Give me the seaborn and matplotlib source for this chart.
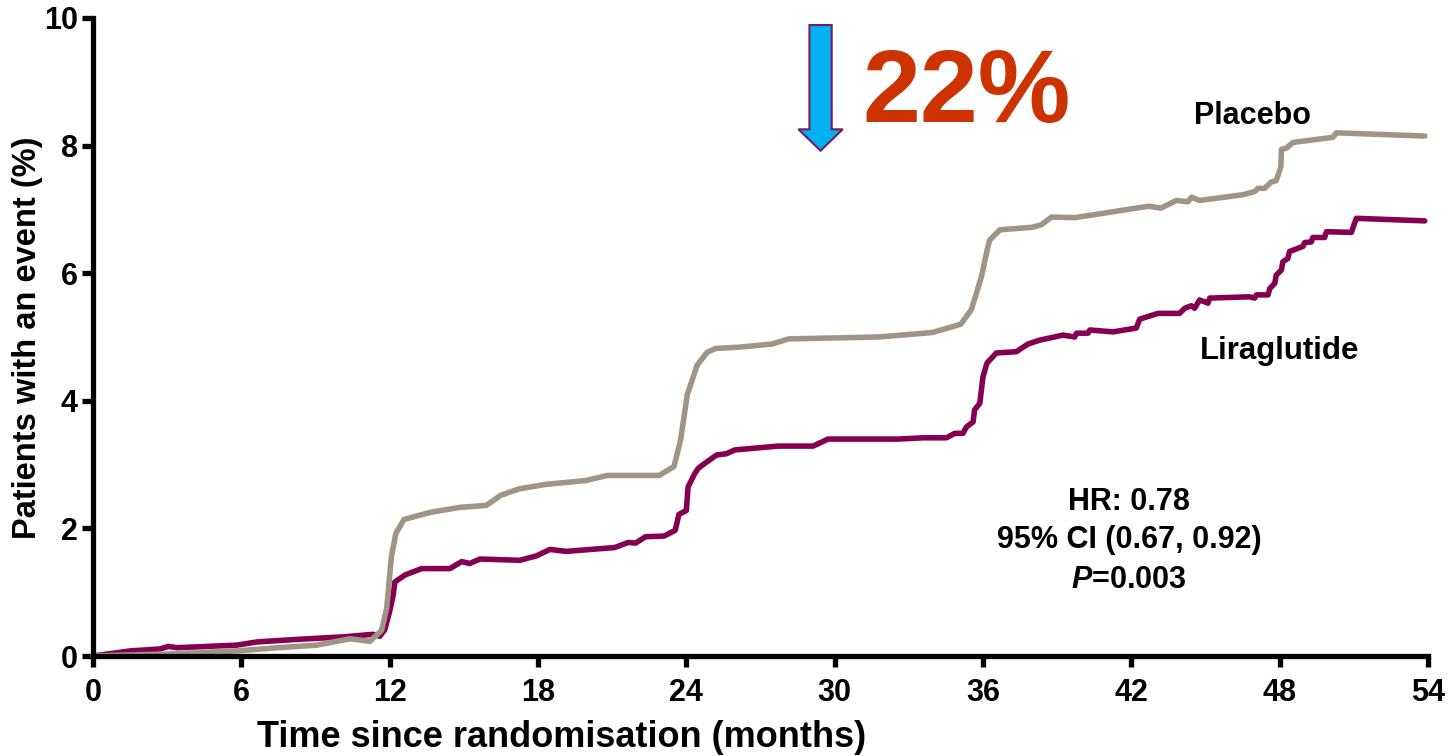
import matplotlib
matplotlib.use("Agg")
import matplotlib.pyplot as plt
import pandas as pd
import seaborn as sns
from matplotlib.patches import FancyArrow

# ---------------- data ----------------
placebo_months = [0, 3.0, 5.8, 7.5, 9.05, 10.4, 11.2, 11.67, 11.88, 12.07, 12.25, 12.58,
                  13.63, 14.84, 15.9, 16.5, 17.24, 18.32, 19.93, 20.8, 22.9, 23.5, 23.77,
                  24.04, 24.44, 24.84, 25.18, 26.12, 27.47, 28.14, 31.77, 33.95, 35.1,
                  35.53, 35.94, 36.2, 36.27, 36.68, 38.0, 38.36, 38.77, 39.71, 42.7, 43.2,
                  43.82, 44.29, 44.43, 44.76, 46.51, 46.99, 47.12, 47.39, 47.66, 47.86,
                  48.05, 48.07, 48.27, 48.54, 50.15, 50.29, 53.87]
placebo_pct = [0, 0.03, 0.08, 0.13, 0.17, 0.27, 0.23, 0.40, 0.75, 1.56, 1.92, 2.14,
               2.25, 2.33, 2.36, 2.52, 2.62, 2.69, 2.75, 2.83, 2.83, 2.97, 3.39,
               4.10, 4.56, 4.76, 4.82, 4.84, 4.89, 4.97, 5.00, 5.07, 5.20,
               5.43, 5.95, 6.42, 6.52, 6.68, 6.72, 6.76, 6.88, 6.87, 7.05, 7.02,
               7.14, 7.12, 7.19, 7.14, 7.23, 7.28, 7.33, 7.33, 7.43, 7.45,
               7.67, 7.94, 7.96, 8.05, 8.13, 8.20, 8.15]

lira_months = [0, 1.5, 2.71, 3.05, 3.38, 5.81, 6.62, 8.24, 10.12, 11.33, 11.6, 11.8, 12.0,
               12.14, 12.21, 12.62, 13.29, 14.44, 14.91, 15.24, 15.65, 17.27, 17.94, 18.48,
               19.15, 21.1, 21.65, 21.95, 22.35, 23.1, 23.55, 23.7, 24.0, 24.07, 24.34,
               24.48, 24.61, 24.75, 25.22, 25.62, 25.96, 26.84, 27.71, 29.13, 29.73, 32.56,
               33.57, 34.52, 34.86, 35.19, 35.33, 35.6, 35.66, 35.87, 36.0, 36.16, 36.54,
               37.35, 37.82, 38.29, 39.24, 39.71, 39.78, 40.25, 40.32, 41.26, 42.2, 42.34,
               43.08, 43.95, 44.16, 44.43, 44.56, 44.76, 44.97, 45.1, 45.17, 46.78, 46.99,
               47.06, 47.53, 47.6, 47.8, 47.86, 48.07, 48.13, 48.33, 48.4, 48.94, 49.01,
               49.28, 49.34, 49.82, 49.89, 50.9, 51.1, 53.87]
lira_pct = [0, 0.08, 0.11, 0.15, 0.13, 0.17, 0.22, 0.26, 0.30, 0.34, 0.31, 0.41, 0.70,
            0.95, 1.16, 1.27, 1.37, 1.37, 1.48, 1.45, 1.52, 1.50, 1.57, 1.67,
            1.64, 1.70, 1.78, 1.77, 1.87, 1.88, 1.97, 2.22, 2.28, 2.65, 2.86,
            2.94, 2.98, 3.02, 3.15, 3.17, 3.23, 3.26, 3.29, 3.29, 3.40, 3.40,
            3.42, 3.42, 3.49, 3.49, 3.59, 3.67, 3.86, 3.96, 4.38, 4.59, 4.75,
            4.77, 4.89, 4.95, 5.03, 5.00, 5.06, 5.06, 5.11, 5.08, 5.14, 5.28,
            5.37, 5.37, 5.45, 5.49, 5.45, 5.58, 5.55, 5.53, 5.61, 5.63, 5.61,
            5.66, 5.66, 5.76, 5.84, 5.97, 6.05, 6.18, 6.23, 6.34, 6.42, 6.48,
            6.49, 6.56, 6.56, 6.65, 6.64, 6.86, 6.82]

arm_names = ["Liraglutide", "Placebo"]
x_ticks = [0, 6, 12, 18, 24, 30, 36, 42, 48, 54]
y_ticks = [0, 2, 4, 6, 8, 10]
x_label = "Time since randomisation (months)"
y_label = "Patients with an event (%)"
reduction_text = "22%"
stats_lines = ["HR: 0.78", "95% CI (0.67, 0.92)", r"$P$=0.003"]

# ---------------- style ----------------
sns.set_theme(style="white")
plt.rcParams["font.family"] = ["Liberation Sans", "DejaVu Sans"]
plt.rcParams["font.weight"] = "bold"
plt.rcParams["mathtext.fontset"] = "custom"
plt.rcParams["mathtext.it"] = "Liberation Sans:italic:bold"
plt.rcParams["mathtext.rm"] = "Liberation Sans:bold"

W, H = 1455, 756
fig = plt.figure(figsize=(W / 100, H / 100), dpi=100)
fig.patch.set_facecolor("white")


def fx(px):
    return px / W


def fy(py):
    return 1 - py / H


ax = fig.add_axes([fx(93), fy(656), (1428 - 93) / W, (656 - 18) / H])

df = pd.concat([
    pd.DataFrame({"month": lira_months, "pct": lira_pct, "arm": arm_names[0]}),
    pd.DataFrame({"month": placebo_months, "pct": placebo_pct, "arm": arm_names[1]}),
], ignore_index=True)

palette = {"Liraglutide": "#850050", "Placebo": "#A09585"}
sns.lineplot(data=df, x="month", y="pct", hue="arm", hue_order=arm_names,
             palette=palette, estimator=None, sort=False, linewidth=4.0,
             legend=False, ax=ax)
for ln in ax.get_lines():
    ln.set_solid_joinstyle("round")
    ln.set_clip_on(False)

ax.set_xlim(0, 54)
ax.set_ylim(0, 10)
ax.set_xticks(x_ticks)
ax.set_yticks(y_ticks)
ax.set_xlabel("")
ax.set_ylabel("")
for s in ["top", "right"]:
    ax.spines[s].set_visible(False)
for s in ["left", "bottom"]:
    ax.spines[s].set_linewidth(3.8)
    ax.spines[s].set_color("black")
    ax.spines[s].set_capstyle("projecting")
ax.tick_params(axis="both", which="major", bottom=True, left=True, direction="out",
               length=8, width=3.8, color="black", labelcolor="black", labelsize=22)
ax.tick_params(axis="x", pad=8)
ax.tick_params(axis="y", pad=3)
for lab in ax.get_xticklabels() + ax.get_yticklabels():
    lab.set_fontweight("bold")

# axis titles
fig.text(fx(28), fy(338), y_label, rotation=90, ha="center", va="center",
         fontsize=23.5, fontweight="bold", color="black")
fig.text(fx(562), fy(747), x_label, ha="center", va="baseline",
         fontsize=26, fontweight="bold", color="black")

# series labels
fig.text(fx(1253), fy(124), arm_names[1], ha="center", va="baseline",
         fontsize=22, fontweight="bold", color="black")
fig.text(fx(1280), fy(359), arm_names[0], ha="center", va="baseline",
         fontsize=22.5, fontweight="bold", color="black")

# statistics
for txt, base in zip(stats_lines, [510, 548, 588]):
    fig.text(fx(1129), fy(base), txt, ha="center", va="baseline",
             fontsize=22, fontweight="bold", color="black")

# reduction annotation
fig.text(fx(967), fy(122), reduction_text, ha="center", va="baseline",
         fontsize=75, fontweight="bold", color="#CC3300")
arrow = FancyArrow(29.43, 9.89, 0, -1.97, width=0.90, head_width=1.79,
                   head_length=0.335, length_includes_head=True,
                   facecolor="#00B0F0", edgecolor="#7A1A5E", linewidth=1.5,
                   clip_on=False, zorder=5)
ax.add_patch(arrow)

fig.savefig("out.png", dpi=100, facecolor="white")
